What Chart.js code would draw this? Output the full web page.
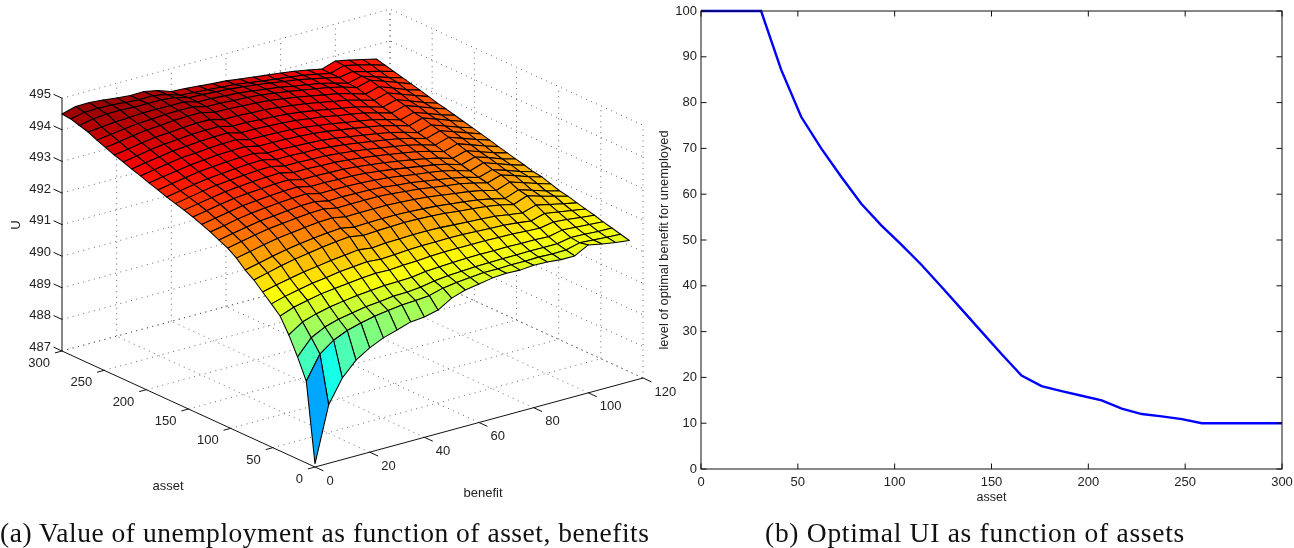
<!DOCTYPE html>
<html><head><meta charset="utf-8">
<style>
html,body{margin:0;padding:0;background:#fff;width:1294px;height:548px;overflow:hidden}
canvas{position:absolute;top:0}
#c3d{left:0}
#c2d{left:650px}
.cap{position:absolute;top:514px;font-family:"Liberation Serif",serif;font-size:27.5px;color:#111;white-space:nowrap;line-height:38px}
</style>
<script src="https://cdn.jsdelivr.net/npm/chart.js@4"></script>
</head><body>
<canvas id="c3d" width="690" height="548"></canvas>
<canvas id="c2d" width="644" height="548"></canvas>
<div class="cap" style="left:0;letter-spacing:.52px">(a) Value of unemployment as function of asset, benefits</div>
<div class="cap" style="left:765px;letter-spacing:.72px">(b) Optimal UI as function of assets</div>
<script>
const assetGrid=[0,10.34,20.69,31.03,41.38,51.72,62.07,72.41,82.76,93.1,103.45,113.79,124.14,134.48,144.83,155.17,165.52,175.86,186.21,196.55,206.9,217.24,227.59,237.93,248.28,258.62,268.97,279.31,289.66,300];
const benefitGrid=[0,5,10,15,20,25,30,35,40,45,50,55,60,65,70,75,80,85,90,95,100,105,110,115];
const surfaceU=[
[487.10,488.85,489.58,490.03,490.30,490.50,490.63,490.77,490.81,490.91,491.17,491.31,491.38,491.46,491.49,491.47,491.51,491.49,491.45,491.45,491.68,491.59,491.52,491.47],
[489.59,490.33,490.65,490.84,490.96,491.06,491.12,491.18,491.20,491.24,491.36,491.42,491.46,491.50,491.50,491.51,491.51,491.52,491.50,491.51,491.62,491.59,491.56,491.54],
[490.23,490.72,490.94,491.07,491.15,491.23,491.27,491.33,491.34,491.38,491.46,491.51,491.53,491.56,491.57,491.58,491.58,491.59,491.58,491.58,491.66,491.65,491.62,491.61],
[490.80,491.09,491.23,491.33,491.40,491.46,491.50,491.54,491.55,491.57,491.63,491.66,491.68,491.70,491.71,491.70,491.71,491.70,491.70,491.68,491.77,491.74,491.71,491.68],
[491.27,491.43,491.53,491.62,491.67,491.72,491.77,491.80,491.79,491.82,491.84,491.87,491.89,491.89,491.89,491.89,491.88,491.87,491.84,491.82,491.90,491.86,491.81,491.76],
[491.53,491.65,491.74,491.83,491.89,491.96,492.00,492.04,492.00,492.03,492.06,492.08,492.08,492.09,492.08,492.06,492.04,492.02,491.98,491.92,492.04,491.97,491.90,491.83],
[491.78,491.88,491.97,492.06,492.12,492.19,492.24,492.29,492.23,492.27,492.28,492.30,492.30,492.29,492.26,492.23,492.21,492.18,492.11,492.05,492.18,492.08,491.99,491.90],
[492.03,492.14,492.25,492.34,492.41,492.48,492.54,492.58,492.50,492.53,492.54,492.56,492.55,492.53,492.50,492.45,492.41,492.36,492.29,492.19,492.35,492.22,492.10,491.98],
[492.22,492.32,492.42,492.51,492.58,492.64,492.69,492.72,492.64,492.66,492.67,492.67,492.66,492.63,492.60,492.55,492.50,492.44,492.36,492.25,492.41,492.28,492.14,492.03],
[492.47,492.56,492.66,492.74,492.80,492.85,492.90,492.92,492.84,492.85,492.85,492.85,492.83,492.80,492.76,492.70,492.64,492.58,492.50,492.38,492.53,492.39,492.25,492.12],
[492.66,492.75,492.84,492.92,492.97,493.02,493.06,493.08,492.99,493.00,493.00,493.00,492.97,492.93,492.89,492.82,492.76,492.70,492.61,492.49,492.63,492.49,492.34,492.21],
[492.79,492.88,492.96,493.04,493.08,493.13,493.17,493.18,493.09,493.10,493.09,493.08,493.05,493.00,492.96,492.89,492.82,492.75,492.66,492.54,492.67,492.53,492.38,492.25],
[492.92,493.00,493.09,493.16,493.21,493.25,493.28,493.30,493.20,493.20,493.19,493.18,493.15,493.11,493.05,492.98,492.92,492.85,492.75,492.62,492.76,492.61,492.46,492.33],
[493.03,493.11,493.19,493.27,493.31,493.35,493.38,493.39,493.29,493.30,493.28,493.27,493.24,493.19,493.13,493.06,492.99,492.92,492.82,492.69,492.82,492.68,492.52,492.40],
[493.14,493.22,493.30,493.37,493.41,493.45,493.48,493.49,493.39,493.39,493.37,493.36,493.32,493.27,493.21,493.14,493.07,492.99,492.89,492.76,492.89,492.74,492.59,492.47],
[493.23,493.31,493.39,493.46,493.50,493.54,493.57,493.58,493.48,493.48,493.46,493.45,493.41,493.36,493.30,493.23,493.16,493.08,492.98,492.85,492.98,492.83,492.68,492.54],
[493.31,493.39,493.47,493.54,493.58,493.62,493.65,493.66,493.56,493.56,493.54,493.53,493.49,493.44,493.38,493.31,493.24,493.16,493.06,492.93,493.06,492.91,492.76,492.62],
[493.39,493.47,493.55,493.62,493.66,493.70,493.73,493.74,493.64,493.64,493.62,493.61,493.57,493.52,493.46,493.39,493.32,493.24,493.14,493.01,493.14,492.99,492.84,492.69],
[493.49,493.57,493.64,493.71,493.75,493.79,493.81,493.82,493.72,493.72,493.70,493.68,493.65,493.60,493.53,493.46,493.39,493.31,493.20,493.07,493.20,493.05,492.89,492.76],
[493.58,493.66,493.73,493.80,493.84,493.88,493.90,493.91,493.81,493.81,493.79,493.77,493.74,493.69,493.62,493.55,493.48,493.40,493.29,493.16,493.29,493.14,492.98,492.83],
[493.68,493.76,493.83,493.90,493.93,493.97,493.99,494.00,493.89,493.89,493.87,493.85,493.81,493.75,493.69,493.61,493.54,493.46,493.35,493.22,493.34,493.19,493.03,492.90],
[493.77,493.85,493.92,493.99,494.02,494.06,494.08,494.09,493.98,493.98,493.96,493.94,493.90,493.84,493.78,493.70,493.63,493.55,493.44,493.31,493.43,493.28,493.12,492.97],
[493.87,493.94,494.02,494.08,494.11,494.15,494.17,494.17,494.06,494.06,494.03,494.01,493.97,493.92,493.85,493.77,493.69,493.61,493.50,493.37,493.49,493.33,493.17,493.03],
[493.96,494.03,494.11,494.17,494.20,494.24,494.26,494.26,494.15,494.15,494.12,494.10,494.06,494.00,493.94,493.86,493.78,493.70,493.59,493.46,493.58,493.42,493.26,493.11],
[494.07,494.14,494.21,494.27,494.30,494.34,494.36,494.36,494.25,494.24,494.21,494.19,494.15,494.09,494.02,493.94,493.86,493.78,493.67,493.53,493.65,493.49,493.32,493.19],
[494.18,494.24,494.30,494.35,494.37,494.40,494.41,494.41,494.30,494.29,494.26,494.24,494.20,494.14,494.08,494.00,493.93,493.85,493.75,493.61,493.73,493.58,493.42,493.26],
[494.31,494.35,494.39,494.42,494.44,494.44,494.44,494.44,494.32,494.31,494.28,494.25,494.20,494.14,494.08,494.00,493.93,493.85,493.75,493.62,493.73,493.59,493.45,493.33],
[494.39,494.48,494.52,494.52,494.50,494.50,494.50,494.45,494.33,494.31,494.28,494.25,494.21,494.15,494.09,494.02,493.96,493.87,493.78,493.68,493.75,493.63,493.52,493.40],
[494.47,494.56,494.57,494.56,494.52,494.49,494.50,494.42,494.28,494.25,494.22,494.18,494.15,494.09,494.03,493.97,493.92,493.86,493.77,493.68,493.81,493.71,493.60,493.47],
[494.50,494.62,494.63,494.59,494.54,494.50,494.51,494.42,494.27,494.25,494.21,494.17,494.14,494.08,494.03,493.97,493.92,493.86,493.78,493.69,493.83,493.74,493.64,493.54]
];
const assetTicks=[0,50,100,150,200,250,300];
const benefitTicks=[0,20,40,60,80,100,120];
const uTicks=[487,488,489,490,491,492,493,494,495];
const lineAsset=[0,10.34,20.69,31.03,41.38,51.72,62.07,72.41,82.76,93.1,103.45,113.79,124.14,134.48,144.83,155.17,165.52,175.86,186.21,196.55,206.9,217.24,227.59,237.93,248.28,258.62,268.97,279.31,289.66,300];
const lineBenefit=[100,100,100,100,87.2,76.9,70,63.8,57.9,53.2,49,44.6,39.8,34.9,30,25.1,20.4,18.1,17,16,15,13.2,12,11.5,10.9,10,10,10,10,10];

const FONT='"Liberation Sans",Arial,sans-serif';
const TEXT='#222';

// orthographic view of (asset, benefit, U) on the picture plane
function view(a,b,u){
  return {x:315-a*253/300+b*328/120, y:467-a*116/300-b*89/120-(u-487)*31.6};
}
function jet(f){
  const c=v=>Math.round(255*Math.max(0,Math.min(1,v)));
  return `rgb(${c(1.5-Math.abs(4*f-3))},${c(1.5-Math.abs(4*f-2))},${c(1.5-Math.abs(4*f-1))})`;
}
const ds=[];
function seg(points,style,order){
  ds.push(Object.assign({data:points,showLine:true,pointRadius:0,fill:false,order,borderJoinStyle:'miter',tension:0,clip:false},style));
}
const dotted={borderColor:'#444',borderWidth:0.8,borderDash:[1,4.5]};
const solid={borderColor:'#111',borderWidth:1};
const A=assetTicks[assetTicks.length-1],B=benefitTicks[benefitTicks.length-1],U0=uTicks[0],U1=uTicks[uTicks.length-1];
// floor, back walls
assetTicks.forEach(a=>{ if(a>0) seg([view(a,0,U0),view(a,B,U0)],dotted,2000);
  if(a>0) seg([view(a,B,U0),view(a,B,U1)],dotted,2000);});
benefitTicks.forEach(b=>{ if(b>0) seg([view(0,b,U0),view(A,b,U0)],dotted,2000);
  if(b>0) seg([view(A,b,U0),view(A,b,U1)],dotted,2000);});
seg([view(0,B,U0),view(0,B,U1)],dotted,2000);
uTicks.forEach(u=>seg([view(A,0,u),view(A,B,u),view(0,B,u)],dotted,2000));
// axes and their tick marks
seg([view(A,0,U0),view(0,0,U0),view(0,B,U0)],solid,1999);
seg([view(A,0,U0),view(A,0,U1)],solid,1999);
assetTicks.forEach(a=>seg([view(a,0,U0),view(a,-2.6,U0)],solid,1999));
benefitTicks.forEach(b=>seg([view(0,b,U0),view(-10,b,U0)],solid,1999));
uTicks.forEach(u=>seg([view(A,0,u),view(A+10,0,u)],solid,1999));
// surface, far cells first
for(let i=0;i<assetGrid.length-1;i++){
  for(let j=0;j<benefitGrid.length-1;j++){
    const cor=[[i,j],[i+1,j],[i+1,j+1],[i,j+1],[i,j]];
    const pts=cor.map(([p,q])=>view(assetGrid[p],benefitGrid[q],surfaceU[p][q]));
    const mean=(surfaceU[i][j]+surfaceU[i+1][j]+surfaceU[i+1][j+1]+surfaceU[i][j+1])/4;
    seg(pts,{borderColor:'#000',borderWidth:1.05,backgroundColor:jet((mean-486.6)/8.2),fill:'shape',borderJoinStyle:'round'},i+j);
  }
}
const labels3d={id:'labels3d',afterDatasetsDraw(chart){
  const c=chart.ctx,sx=chart.scales.x,sy=chart.scales.y;
  const at=p=>({x:sx.getPixelForValue(p.x),y:sy.getPixelForValue(p.y)});
  c.save();c.fillStyle=TEXT;c.font='13px '+FONT;c.textBaseline='middle';
  c.textAlign='right';
  assetTicks.forEach(a=>{const p=at(view(a,0,U0));c.fillText(String(a),p.x-12,p.y+12.5);});
  uTicks.forEach(u=>{const p=at(view(A,0,u));c.fillText(String(u),p.x-11,p.y-3.7);});
  c.textAlign='left';
  benefitTicks.forEach(b=>{const p=at(view(0,b,U0));c.fillText(String(b),p.x+11.5,p.y+14);});
  c.textAlign='center';
  c.fillText('asset',168,486);
  c.fillText('benefit',483,493);
  c.translate(16,225);c.rotate(-Math.PI/2);c.fillText('U',0,0);
  c.restore();
}};
new Chart(document.getElementById('c3d'),{type:'scatter',data:{datasets:ds},plugins:[labels3d],options:{
  responsive:false,animation:false,events:[],layout:{padding:0},
  plugins:{legend:{display:false},tooltip:{enabled:false}},
  scales:{x:{type:'linear',display:false,min:0,max:690},y:{type:'linear',display:false,min:0,max:548,reverse:true}}
}});

const box2d={id:'box2d',afterDatasetsDraw(chart){
  const c=chart.ctx,a=chart.chartArea,sx=chart.scales.x,sy=chart.scales.y,L=5.5;
  c.save();c.strokeStyle='#111';c.lineWidth=1;c.strokeRect(a.left,a.top,a.right-a.left,a.bottom-a.top);
  c.beginPath();
  sx.ticks.forEach(t=>{const x=sx.getPixelForValue(t.value);c.moveTo(x,a.bottom);c.lineTo(x,a.bottom-L);c.moveTo(x,a.top);c.lineTo(x,a.top+L);});
  sy.ticks.forEach(t=>{const y=sy.getPixelForValue(t.value);c.moveTo(a.left,y);c.lineTo(a.left+L,y);c.moveTo(a.right,y);c.lineTo(a.right-L,y);});
  c.stroke();c.restore();
}};
new Chart(document.getElementById('c2d'),{type:'scatter',
  data:{datasets:[{label:'optimal benefit',data:lineAsset.map((x,i)=>({x,y:lineBenefit[i]})),showLine:true,pointRadius:0,borderColor:'#0000ff',borderWidth:2.4,tension:0,fill:false,clip:false}]},
  plugins:[box2d],
  options:{responsive:false,animation:false,events:[],layout:{padding:{top:11,right:12,left:0,bottom:0}},
  plugins:{legend:{display:false},tooltip:{enabled:false}},
  scales:{
    x:{type:'linear',min:0,max:300,afterFit:s=>{s.height=79;s.paddingRight=0;s.paddingLeft=0;},
      grid:{display:false,drawTicks:false},border:{display:false},
      ticks:{stepSize:50,color:TEXT,font:{family:FONT,size:13},padding:6,maxRotation:0},
      title:{display:true,text:'asset',color:TEXT,font:{family:FONT,size:12.5},padding:{top:0,bottom:43}}},
    y:{type:'linear',min:0,max:100,afterFit:s=>{s.width=51;s.paddingTop=0;s.paddingBottom=0;},
      grid:{display:false,drawTicks:false},border:{display:false},
      ticks:{stepSize:10,color:TEXT,font:{family:FONT,size:13},padding:4},
      title:{display:true,text:'level of optimal benefit for unemployed',color:TEXT,font:{family:FONT,size:12.8},padding:{top:7,bottom:0}}}
  }}
});
</script>
</body></html>
